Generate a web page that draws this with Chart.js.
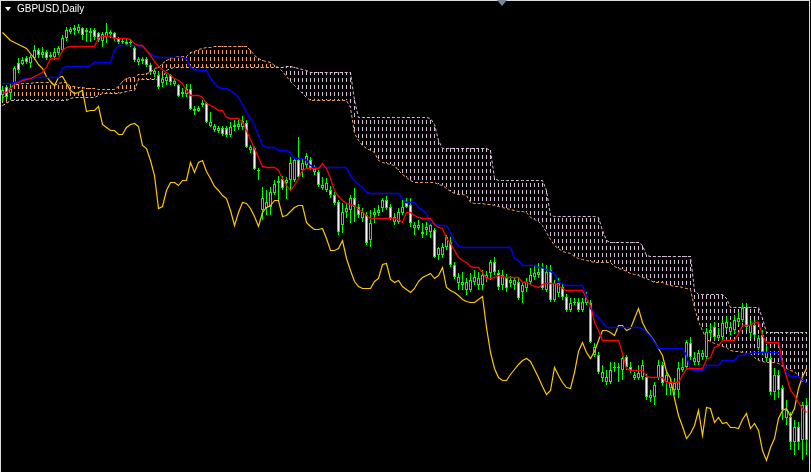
<!DOCTYPE html>
<html>
<head>
<meta charset="utf-8">
<script src="https://cdn.jsdelivr.net/npm/chart.js@4/dist/chart.umd.min.js"></script>
<style>
html,body{margin:0;padding:0;background:#000;overflow:hidden;width:811px;height:472px}
#frame{position:absolute;left:0;top:0;width:810px;height:472px;box-sizing:border-box;border-left:1px solid #dcdcdc;border-top:1px solid #dcdcdc;border-right:1px solid #dcdcdc}
#c{position:absolute;left:1px;top:1px}
#title{position:absolute;left:17px;top:4px;color:#fff;font:10px "Liberation Sans",Arial,sans-serif;line-height:10px;white-space:nowrap}
#tri{position:absolute;left:5px;top:7px;width:0;height:0;border-left:3px solid transparent;border-right:3px solid transparent;border-top:4px solid #fff}
#shift{position:absolute;left:497px;top:0;width:0;height:0;border-left:5px solid transparent;border-right:5px solid transparent;border-top:6px solid #778899}
</style>
</head>
<body>
<div id="frame"></div>
<canvas id="c" width="808" height="471"></canvas>
<div id="tri"></div>
<div id="title">GBPUSD,Daily</div>
<div id="shift"></div>
<script>
// Daily bars (price in chart points)
const openP = [405,413,407,417,437,436,442,437,442,450,
445,448,443,443,447,450,462,468,470,469,
472,468,467,470,467,459,463,466,467,462,
458,456,457,452,438,439,441,435,426,425,
417,419,425,416,415,406,406,411,389,389,
395,397,374,370,369,372,372,365,373,373,
373,377,350,352,329,290,292,293,307,317,
321,317,320,320,340,330,335,340,328,328,
312,310,310,305,298,275,288,290,302,293,
282,285,260,285,287,292,300,293,278,278,
287,297,295,272,272,266,270,268,270,245,
245,253,258,235,217,215,210,210,218,215,
215,222,227,238,227,215,222,217,215,218,
208,212,218,223,225,232,210,230,200,207,
213,203,190,197,198,190,197,197,145,145,
122,118,118,132,132,130,143,133,122,122,
123,123,102,103,122,135,118,112,110,110,
130,133,157,138,138,143,143,167,173,162,
163,172,168,170,178,180,193,167,175,152,
165,142,142,108,125,112,82,83,58,73,
60,95];
const closeP = [410,403,411,432,430,440,438,443,450,445,
448,442,445,448,452,462,470,471,472,473,
465,470,469,463,460,466,468,468,462,458,
459,458,458,440,441,441,435,428,429,413,
421,423,418,419,404,408,411,391,391,392,
397,378,378,374,372,366,365,373,375,376,
379,353,353,331,330,302,298,308,316,319,
312,320,337,340,323,337,344,332,331,315,
315,317,305,297,268,288,292,302,293,285,
288,257,277,288,290,300,292,282,283,288,
293,293,277,275,275,268,273,275,243,252,
253,263,235,223,223,218,218,220,223,222,
225,225,238,228,213,225,212,220,220,202,
215,218,225,227,228,212,228,200,217,217,
203,190,197,198,190,198,202,158,153,128,
128,123,130,133,133,142,133,130,125,127,
135,103,105,115,135,117,125,117,117,132,
133,158,143,142,147,147,168,170,163,165,
177,178,173,180,182,192,173,175,165,162,
148,148,108,125,110,90,90,58,73,58,
95,60];
const highP = [414,415,417,434,442,443,444,445,455,452,
453,450,448,452,454,465,473,473,475,476,
473,472,472,472,468,468,477,470,468,463,
461,462,460,454,443,443,443,437,431,428,
425,426,426,422,416,412,416,416,394,394,
400,398,388,376,374,374,374,378,380,380,
384,380,355,354,332,313,310,313,320,324,
324,323,343,342,363,342,347,343,335,330,
323,322,314,308,300,297,296,305,312,296,
292,288,290,292,295,302,304,296,287,292,
300,302,302,278,280,277,278,277,272,253,
257,265,263,238,227,228,222,227,230,228,
230,229,240,243,230,230,226,224,223,222,
218,222,232,235,237,237,235,235,220,222,
217,206,202,202,202,202,208,200,157,148,
135,130,138,138,137,144,145,138,128,135,
140,126,110,118,140,138,128,122,122,138,
142,160,163,148,150,150,172,177,178,172,
180,184,178,185,188,197,197,180,180,165,
170,155,145,132,130,115,100,88,80,78,
98,102];
const lowP = [399,400,400,414,427,435,436,432,440,442,
442,440,440,440,445,448,459,466,465,467,
460,458,458,460,458,453,457,462,459,456,
456,454,453,438,435,436,433,426,423,411,
413,415,415,414,403,403,403,390,385,388,
393,377,373,368,367,364,363,363,369,370,
370,352,347,330,320,280,285,285,305,300,
310,301,310,318,322,323,332,330,325,313,
310,308,302,295,265,267,282,277,278,282,
278,255,253,277,284,288,290,280,275,276,
285,292,273,265,270,262,265,262,242,240,
242,250,233,221,210,210,205,208,215,210,
210,218,220,225,210,210,208,213,210,200,
197,208,215,220,222,210,208,198,198,203,
200,188,188,195,188,188,195,157,143,126,
118,115,116,128,118,120,130,127,120,120,
120,100,98,95,120,114,105,105,105,102,
128,130,140,135,135,140,140,163,160,160,
160,170,165,167,175,178,170,163,162,150,
145,138,105,100,102,80,75,50,45,50,
40,45];
// Ichimoku lines
const tenkan = [407,408,412,416,418,420,421,422,424,426,
428,433,442,442,442,450,453,454,454,454,
454,454,454,454,463,464,464,464,462,462,
462,462,461,457,455,455,450,445,439,434,
431,428,425,422,420,417,410,405,405,405,
403,397,395,393,390,390,383,382,382,382,
378,370,361,352,343,334,333,333,333,330,
322,315,310,315,322,330,332,332,332,332,
337,332,322,310,304,300,297,296,295,291,
289,285,282,282,282,282,282,282,282,281,
278,288,288,285,283,282,282,282,276,273,
272,262,257,250,243,240,238,234,233,233,
228,222,222,223,225,224,223,223,223,223,
218,218,216,214,213,216,217,217,217,215,
212,210,210,210,210,210,202,195,178,170,
160,160,160,160,160,147,132,130,130,130,
130,124,123,123,123,123,118,118,118,118,
125,132,132,132,132,132,141,143,153,155,
160,160,160,160,167,175,175,175,178,178,
165,158,158,158,158,138,124,110,105,98,
92,88];
const kijun = [417,417,417,418,419,421,422,422,423,423,
423,423,423,423,423,432,434,434,434,434,
434,434,435,438,438,438,438,438,450,455,
455,455,455,455,455,453,450,447,444,443,
443,443,443,443,443,443,442,433,431,430,
430,430,422,417,413,412,412,410,407,403,
396,388,382,375,365,355,353,353,353,350,
350,350,348,342,342,342,340,335,333,333,
333,333,333,333,333,333,333,325,320,316,
313,308,307,307,307,307,307,307,307,307,
302,298,298,298,293,290,287,277,277,275,
275,275,268,260,254,253,253,253,253,253,
253,253,253,253,253,253,253,253,242,240,
235,235,235,235,233,233,231,229,227,218,
217,215,215,215,215,215,205,192,187,183,
178,173,173,173,173,173,173,173,173,173,
172,168,164,158,152,152,152,152,152,152,
152,145,131,130,130,130,135,135,135,135,
140,140,140,140,145,145,147,147,148,148,
148,148,148,148,148,138,128,124,124,124,
120,118];
const chikou = [468,464,460,458,456,454,452,447,442,436,
432,424,419,415,423,424,417,410,407,408,
410,389,390,390,394,376,373,370,370,366,
366,373,376,377,374,355,352,340,325,292,
294,310,318,318,315,320,320,338,328,338,
340,329,322,314,310,305,302,290,275,288,
298,297,292,284,274,288,293,295,300,300,
284,285,289,293,295,295,278,274,271,271,
272,262,250,250,252,260,242,230,219,214,
212,212,212,219,222,236,237,221,218,220,
214,211,208,212,219,223,225,227,222,225,
233,213,210,208,205,201,199,198,198,201,
204,173,148,132,123,120,120,126,131,136,
140,142,139,131,123,114,106,110,133,125,
118,113,112,128,149,158,148,142,149,160,
170,170,168,165,175,175,170,172,182,192,
178,170,165,159,152,145,129,122,102,85,
74,62,67,75,90,65,93,92,78,83,
77,78,73,73,72,81,87,72,77,70,
50,40,53,62,82,90,92,84,92,112,
124,132];
const spanA = [402,407,413,416,416,417,417,417,418,418,
418,418,418,415,417,418,418,414,414,413,
413,412,412,412,411,411,411,411,411,414,
419,422,423,423,426,426,427,428,432,433,
437,440,442,443,444,444,444,448,449,451,
452,453,453,454,454,454,454,454,454,454,
454,454,450,445,442,440,439,438,435,433,
429,424,419,415,411,407,403,400,400,400,
400,400,400,400,400,400,400,393,367,360,
355,352,350,348,340,338,337,336,335,330,
326,323,320,318,318,318,318,318,318,316,
315,312,309,307,306,306,305,298,297,297,
297,296,296,295,294,293,292,291,290,289,
289,288,283,281,279,275,268,261,255,252,
249,248,247,244,242,241,240,239,238,238,
238,238,238,234,232,231,229,227,226,225,
223,222,220,218,218,218,216,215,214,214,
213,212,211,193,179,170,161,159,157,156,
154,153,150,149,149,148,147,147,143,140,
139,138,138,138,137,134,132,130,129,124,
119,118];
const spanB = [395,397,400,400,400,400,400,400,400,400,
400,400,400,400,400,400,400,402,403,403,
403,403,403,403,405,407,407,407,407,407,
408,409,410,410,421,421,421,421,421,421,
422,430,432,433,433,433,433,433,433,433,
433,433,433,433,433,433,433,433,433,433,
433,433,433,433,433,433,433,433,433,433,
433,434,434,433,432,431,430,428,428,428,
428,428,428,428,428,428,428,428,400,383,
383,383,383,383,383,383,383,383,383,383,
383,383,383,383,383,383,383,382,376,360,
352,352,352,352,352,352,352,352,352,352,
352,352,350,322,320,320,320,320,320,320,
320,320,320,320,320,320,310,285,284,284,
284,284,284,284,284,284,284,284,284,283,
270,260,258,258,258,258,258,258,258,258,
255,245,244,244,244,244,244,244,244,244,
244,244,244,210,206,206,206,206,206,206,
206,202,193,193,193,193,193,193,193,193,
182,168,168,168,168,168,168,168,168,168,
168,168];

const idx = openP.map((_, i) => i);
const pts = arr => arr.map((v, i) => ({x: i, y: v}));

const GREEN = '#00FF00', ORANGE = '#F4A460', THISTLE = '#D8BFD8';
const cv = document.getElementById('c');
const cctx = cv.getContext('2d');
function dashPattern(color) {
  const t = document.createElement('canvas');
  t.width = 1; t.height = 7;
  const g = t.getContext('2d');
  g.fillStyle = color; g.fillRect(0, 0, 1, 4);
  return cctx.createPattern(t, 'repeat');
}
const patOrange = dashPattern(ORANGE), patThistle = dashPattern(THISTLE);

new Chart(cv, {
  type: 'bar',
  data: {
    datasets: [
      {type: 'line', label: 'Tenkan', data: pts(tenkan), yAxisID: 'yl', borderColor: '#FF0000', borderWidth: 1.3, pointRadius: 0, tension: 0, order: 1},
      {type: 'line', label: 'Kijun', data: pts(kijun), yAxisID: 'yl', borderColor: '#0000FF', borderWidth: 1.4, pointRadius: 0, tension: 0, order: 2},
      {type: 'line', label: 'Chikou', data: pts(chikou), yAxisID: 'yl', borderColor: '#FFC800', borderWidth: 1.2, pointRadius: 0, tension: 0, order: 3},
      {label: 'Bodies', data: idx.map(i => ({x: i, y: [openP[i], closeP[i]]})), yAxisID: 'y',
        barThickness: 3, borderWidth: 1, borderSkipped: false, inflateAmount: 0, borderColor: GREEN,
        backgroundColor: c => (c.dataIndex !== undefined && closeP[c.dataIndex] < openP[c.dataIndex]) ? '#FFFFFF' : '#000000', order: 5},
      {label: 'Wicks', data: idx.map(i => ({x: i, y: [lowP[i], highP[i]]})), yAxisID: 'y',
        barThickness: 1, borderWidth: 0, inflateAmount: 0, backgroundColor: GREEN, order: 6},
      {type: 'line', label: 'Senkou A', data: pts(spanA), yAxisID: 'yl', borderColor: ORANGE, borderWidth: 1, borderDash: [3, 2], pointRadius: 0, tension: 0, order: 7},
      {type: 'line', label: 'Senkou B', data: pts(spanB), yAxisID: 'yl', borderColor: THISTLE, borderWidth: 1, borderDash: [3, 2], pointRadius: 0, tension: 0, order: 8},
      {label: 'Cloud', data: idx.map(i => ({x: i, y: [spanA[i], spanB[i]]})), yAxisID: 'y',
        barThickness: 1, borderWidth: 0, inflateAmount: 0,
        backgroundColor: c => (c.dataIndex !== undefined && spanA[c.dataIndex] < spanB[c.dataIndex]) ? patThistle : patOrange, order: 9}
    ]
  },
  options: {
    responsive: false, maintainAspectRatio: false, animation: false, devicePixelRatio: 1, events: [],
    layout: {padding: 0},
    datasets: {bar: {grouped: false}},
    plugins: {legend: {display: false}, tooltip: {enabled: false}, title: {display: false}},
    scales: {
      x: {type: 'linear', min: -0.375, max: 201.625, offset: false, display: false, grid: {display: false}},
      y: {type: 'linear', min: 28, max: 499, display: false, grid: {display: false}},
      yl: {type: 'linear', position: 'left', min: 28.5, max: 499.5, display: false, grid: {display: false}}
    }
  }
});
</script>
</body>
</html>
